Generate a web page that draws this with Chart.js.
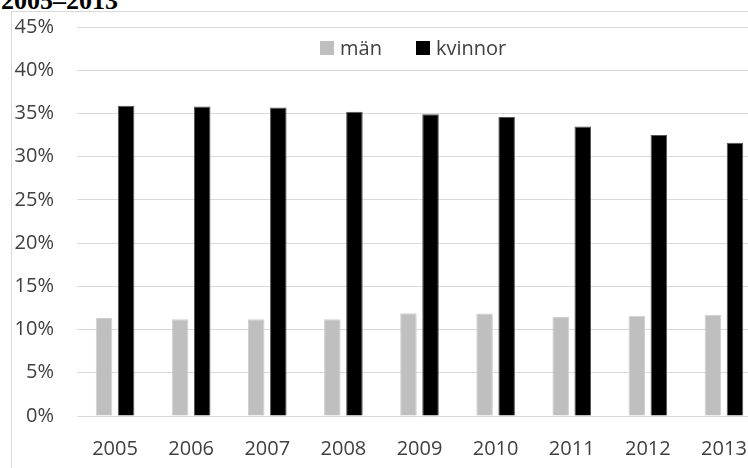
<!DOCTYPE html>
<html>
<head>
<meta charset="utf-8">
<script src="https://cdn.jsdelivr.net/npm/chart.js@4/dist/chart.umd.min.js"></script>
<style>
  html, body { margin: 0; padding: 0; background: #fff; overflow: hidden; width: 748px; height: 468px; }
  #frame { position: absolute; left: 11px; top: 11px; width: 900px; height: 600px; border: 1px solid #d9d9d9; }
  #title { position: absolute; left: 1px; top: -14px; font: bold 26px "Liberation Serif", "Times New Roman", serif; color: #000; white-space: nowrap; }
  #wrap { position: absolute; left: 0; top: -8px; width: 800px; height: 476px; }
  #legend { position: absolute; top: 34px; left: 320px; font: 20px "Open Sans", sans-serif; color: #404040; white-space: nowrap; }
  #legend span.item { margin-right: 34px; }
  #legend span.box { display: inline-block; width: 14px; height: 14px; margin-right: 6px; vertical-align: 0px; }
</style>
</head>
<body>
<div id="frame"></div>
<div id="title">2005–2013</div>
<div id="wrap"><canvas id="barChart"></canvas></div>
<div id="legend"></div>
<script>
const years = ['2005', '2006', '2007', '2008', '2009', '2010', '2011', '2012', '2013'];
const man = [11.35, 11.2, 11.2, 11.2, 11.9, 11.85, 11.45, 11.6, 11.7];
const kvinnor = [35.9, 35.8, 35.7, 35.2, 34.9, 34.6, 33.5, 32.5, 31.6];

const font = { family: '"Open Sans", sans-serif', size: 20 };

const ctx = document.getElementById('barChart').getContext('2d');
const chart = new Chart(ctx, {
    type: 'bar',
    data: {
        labels: years,
        datasets: [{
            label: 'män',
            data: man,
            backgroundColor: '#bfbfbf',
            borderColor: '#d0d0d0',
            borderWidth: 1,
            categoryPercentage: 0.58,
            barPercentage: 0.75
        }, {
            label: 'kvinnor',
            data: kvinnor,
            backgroundColor: '#000000',
            borderColor: '#555555',
            borderWidth: 1,
            categoryPercentage: 0.58,
            barPercentage: 0.75
        }]
    },
    options: {
        responsive: true,
        maintainAspectRatio: false,
        animation: false,
        layout: { padding: { left: 0, right: 38, top: 18, bottom: 0 } },
        scales: {
            y: {
                min: 0,
                max: 45,
                ticks: {
                    stepSize: 5,
                    color: '#404040',
                    font: font,
                    padding: 23,
                    callback: v => v + '%'
                },
                grid: { color: '#d9d9d9', drawTicks: false, lineWidth: 1 },
                border: { display: false },
                afterFit: s => { s.width = 77; }
            },
            x: {
                ticks: { color: '#404040', font: font, padding: 13 },
                grid: { display: false },
                border: { display: false },
                afterFit: s => { s.height = 52; }
            }
        },
        plugins: {
            legend: { display: false },
            tooltip: { enabled: false }
        }
    }
});

// legend in html, taken from the datasets
const legend = document.getElementById('legend');
chart.data.datasets.forEach(ds => {
    const item = document.createElement('span');
    item.className = 'item';
    item.innerHTML = '<span class="box" style="background:' + ds.backgroundColor + '"></span>' + ds.label;
    legend.appendChild(item);
});
</script>
</body>
</html>
